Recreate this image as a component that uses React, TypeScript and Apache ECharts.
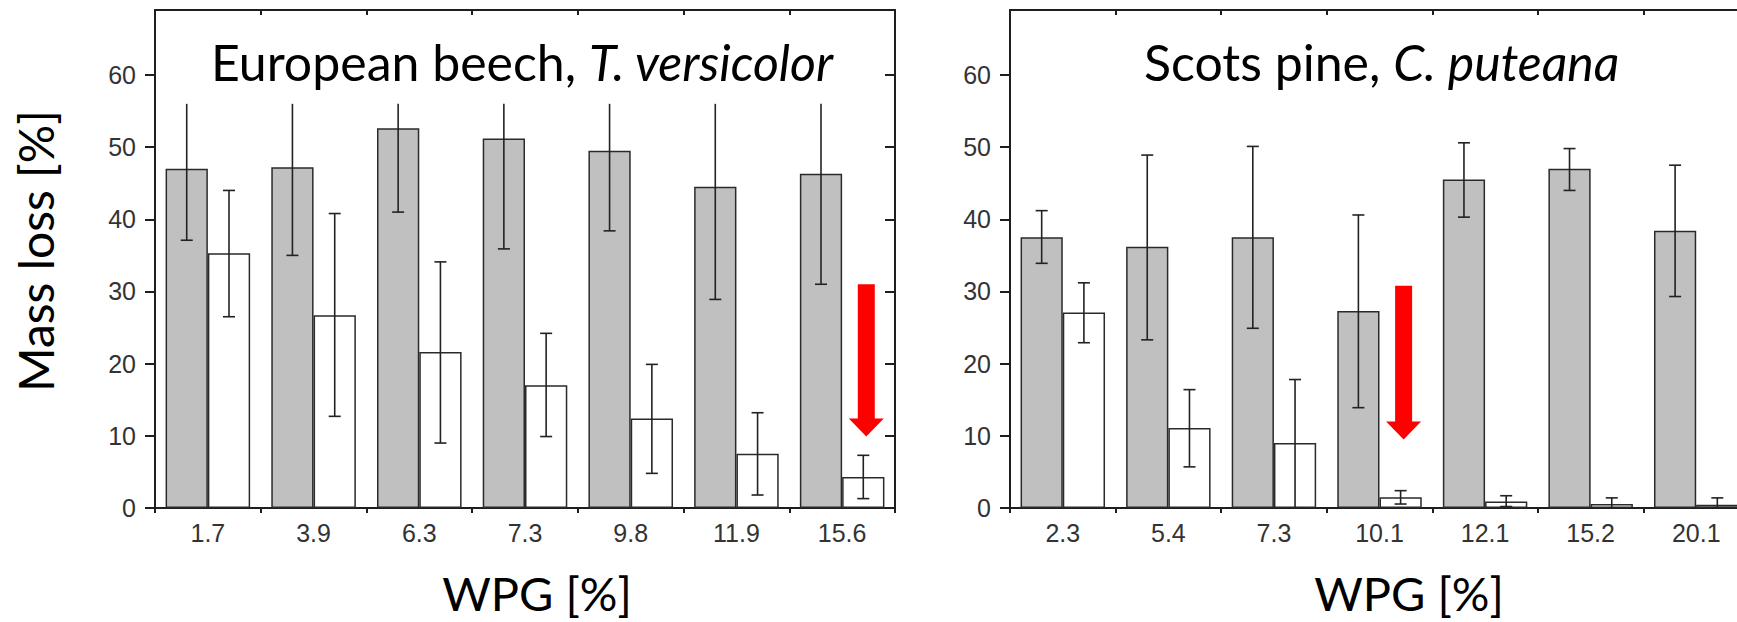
import React, { useEffect, useRef } from "react";
import * as echarts from "echarts";

// ---------- data ----------
const yTicks = [0, 10, 20, 30, 40, 50, 60];
const yMax = 69;

const beechCats = ["1.7", "3.9", "6.3", "7.3", "9.8", "11.9", "15.6"];
const beechControl = [47.0, 47.2, 52.6, 51.2, 49.5, 44.5, 46.3];
const beechControlLow = [37.1, 35.0, 41.0, 35.9, 38.4, 28.9, 31.0];
const beechControlHigh = [56, 56, 56, 56, 56, 56, 56];
const beechTreated = [35.3, 26.7, 21.6, 17.0, 12.4, 7.5, 4.3];
const beechTreatedLow = [26.5, 12.7, 9.0, 9.9, 4.8, 1.8, 1.3];
const beechTreatedHigh = [44.0, 40.8, 34.1, 24.2, 19.9, 13.2, 7.3];
const beechWhiskerClip = 56;
const beechArrow = [[6, 31.0, 9.9]];

const pineCats = ["2.3", "5.4", "7.3", "10.1", "12.1", "15.2", "20.1"];
const pineControl = [37.5, 36.2, 37.5, 27.3, 45.5, 47.0, 38.4];
const pineControlLow = [33.9, 23.3, 24.9, 13.9, 40.3, 44.0, 29.3];
const pineControlHigh = [41.2, 48.9, 50.1, 40.6, 50.6, 49.8, 47.5];
const pineTreated = [27.1, 11.1, 9.0, 1.5, 0.9, 0.55, 0.45];
const pineTreatedLow = [22.9, 5.7, 0, 0.55, 0.2, 0, 0];
const pineTreatedHigh = [31.2, 16.4, 17.8, 2.4, 1.7, 1.4, 1.4];
const pineWhiskerClip = 999;
const pineArrow = [[3, 30.8, 9.5]];

// ---------- styles ----------
const AXIS = "#1e1e1e";
const LABEL = "#333";
const BORDER = "#2a2a2a";
const GRAY = "#c0c0c0";
const TICK_FONT = "Liberation Sans, Arial, sans-serif";

function bottomAxis(cats: string[], grid: number) {
  return {
    type: "category",
    gridIndex: grid,
    position: "bottom",
    data: cats,
    axisLine: { show: true, onZero: false, lineStyle: { color: AXIS, width: 2 } },
    axisTick: { show: true, inside: false, length: 5, interval: 0, lineStyle: { color: AXIS, width: 2 } },
    axisLabel: { interval: 0, margin: 12, color: LABEL, fontSize: 25, fontFamily: TICK_FONT },
    splitLine: { show: false },
  };
}
function topAxis(cats: string[], grid: number) {
  return {
    type: "category",
    gridIndex: grid,
    position: "top",
    data: cats,
    axisLine: { show: true, onZero: false, lineStyle: { color: AXIS, width: 2 } },
    axisTick: { show: true, inside: true, length: 5, interval: 0, lineStyle: { color: AXIS, width: 2 } },
    axisLabel: { show: false },
    splitLine: { show: false },
  };
}
function leftAxis(grid: number) {
  return {
    type: "value",
    gridIndex: grid,
    position: "left",
    min: 0,
    max: yMax,
    axisLine: { show: true, onZero: false, lineStyle: { color: AXIS, width: 2 } },
    axisTick: { show: true, inside: false, length: 10, customValues: yTicks, lineStyle: { color: AXIS, width: 2 } },
    axisLabel: { customValues: yTicks, margin: 19, color: LABEL, fontSize: 25, fontFamily: TICK_FONT },
    splitLine: { show: false },
  };
}
function rightAxis(grid: number) {
  return {
    type: "value",
    gridIndex: grid,
    position: "right",
    min: 0,
    max: yMax,
    axisLine: { show: true, onZero: false, lineStyle: { color: AXIS, width: 2 } },
    axisTick: { show: true, inside: true, length: 10, customValues: yTicks, lineStyle: { color: AXIS, width: 2 } },
    axisLabel: { show: false },
    splitLine: { show: false },
  };
}

function barSeries(data: number[], xi: number, yi: number, color: string) {
  return {
    type: "bar",
    xAxisIndex: xi,
    yAxisIndex: yi,
    data,
    barGap: "0%",
    barCategoryGap: "20%",
    itemStyle: { color, borderColor: BORDER, borderWidth: 1.5 },
    z: 2,
  };
}

function errSeries(low: number[], high: number[], xi: number, yi: number, offset: number, clip: number) {
  return {
    type: "custom",
    xAxisIndex: xi,
    yAxisIndex: yi,
    z: 4,
    data: low.map((l, i) => [i, l, high[i]]),
    renderItem: (params: any, api: any) => {
      const i = api.value(0);
      const lo = api.value(1);
      const hi = api.value(2);
      const band = api.size([1, 0])[0];
      const cx = api.coord([i, 0])[0] + offset * band;
      const yl = api.coord([i, lo])[1];
      const yh = api.coord([i, hi])[1];
      const st = { stroke: "#222", lineWidth: 1.6 };
      const cap = 6;
      const children: any[] = [
        { type: "line", shape: { x1: cx, y1: yl, x2: cx, y2: yh }, style: st },
        { type: "line", shape: { x1: cx - cap, y1: yl, x2: cx + cap, y2: yl }, style: st },
      ];
      if (hi < clip - 0.01) {
        children.push({ type: "line", shape: { x1: cx - cap, y1: yh, x2: cx + cap, y2: yh }, style: st });
      }
      return { type: "group", children };
    },
  };
}

function arrowSeries(data: number[][], xi: number, yi: number) {
  return {
    type: "custom",
    xAxisIndex: xi,
    yAxisIndex: yi,
    z: 6,
    data,
    renderItem: (params: any, api: any) => {
      const i = api.value(0);
      const top = api.value(1);
      const tip = api.value(2);
      const band = api.size([1, 0])[0];
      const cx = api.coord([i, 0])[0] + 0.2 * band + 3;
      const yt = api.coord([i, top])[1];
      const yp = api.coord([i, tip])[1];
      const sw = 8.5;
      const hw = 17.5;
      const hh = 18;
      return {
        type: "polygon",
        shape: {
          points: [
            [cx - sw, yt],
            [cx + sw, yt],
            [cx + sw, yp - hh],
            [cx + hw, yp - hh],
            [cx, yp],
            [cx - hw, yp - hh],
            [cx - sw, yp - hh],
          ],
        },
        style: { fill: "#ff0000" },
      };
    },
  };
}

const TITLE_FONT = "Lato, 'Open Sans', sans-serif";

function label(text: string, x: number, y: number, size: number, extra: any = {}) {
  return {
    type: "text",
    x,
    y,
    z: 10,
    ...extra,
    style: {
      text,
      fontSize: size,
      fontFamily: TITLE_FONT,
      fill: "#000",
      align: extra.align || "center",
      verticalAlign: "middle",
      rich: { i: { fontStyle: "italic", fontSize: size, fontFamily: TITLE_FONT, fill: "#000" } },
    },
  };
}

export default function App() {
  const ref = useRef<HTMLDivElement>(null);
  useEffect(() => {
    if (!ref.current) return;
    const chart = echarts.init(ref.current, undefined, { renderer: "svg" });
    const option: any = {
      animation: false,
      backgroundColor: "#fff",
      grid: [
        { left: 155, top: 10, width: 740, height: 498 },
        { left: 1010, top: 10, width: 739, height: 498 },
      ],
      xAxis: [bottomAxis(beechCats, 0), topAxis(beechCats, 0), bottomAxis(pineCats, 1), topAxis(pineCats, 1)],
      yAxis: [leftAxis(0), rightAxis(0), leftAxis(1), rightAxis(1)],
      series: [
        barSeries(beechControl, 0, 0, GRAY),
        barSeries(beechTreated, 0, 0, "#ffffff"),
        errSeries(beechControlLow, beechControlHigh, 0, 0, -0.2, beechWhiskerClip),
        errSeries(beechTreatedLow, beechTreatedHigh, 0, 0, 0.2, beechWhiskerClip),
        arrowSeries(beechArrow, 0, 0),
        barSeries(pineControl, 2, 2, GRAY),
        barSeries(pineTreated, 2, 2, "#ffffff"),
        errSeries(pineControlLow, pineControlHigh, 2, 2, -0.2, pineWhiskerClip),
        errSeries(pineTreatedLow, pineTreatedHigh, 2, 2, 0.2, pineWhiskerClip),
        arrowSeries(pineArrow, 2, 2),
      ],
      graphic: [
        label("European beech, {i|T. versicolor}", 211, 62, 50, { align: "left" }),
        label("Scots pine, {i|C. puteana}", 1144, 62, 50, { align: "left" }),
        label("Mass loss [%]", 35, 251, 48, { rotation: Math.PI / 2 }),
        label("WPG [%]", 537, 593, 47),
        label("WPG [%]", 1409, 593, 47),
      ],
    };
    chart.setOption(option);
    return () => chart.dispose();
  }, []);
  return (
    <div
      style={{
        position: "fixed",
        left: 0,
        top: 0,
        width: 1737,
        height: 622,
        overflow: "hidden",
        background: "#fff",
      }}
    >
      <div ref={ref} style={{ width: 1760, height: 622 }} />
    </div>
  );
}
